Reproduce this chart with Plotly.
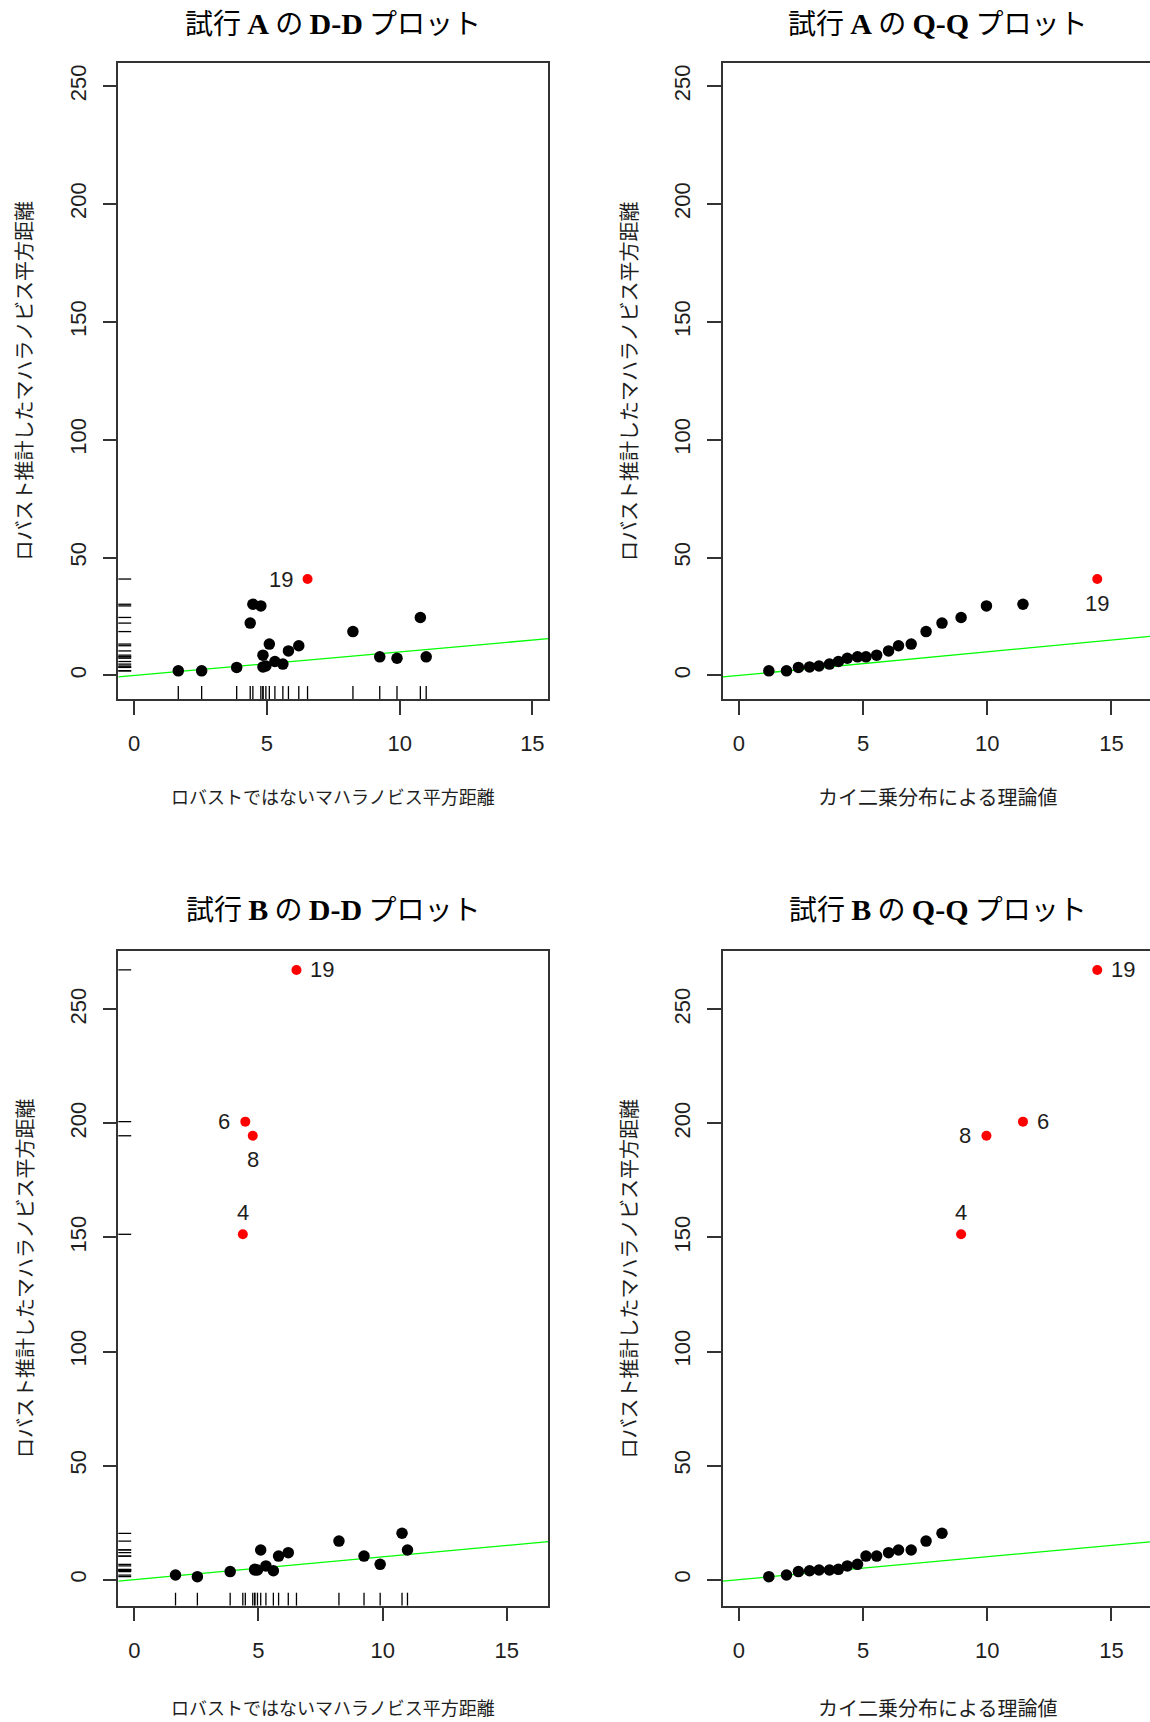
import plotly.graph_objects as go

# ---------------- data ----------------
obs_ids = list(range(1, 21))
# non-robust squared Mahalanobis distance (shared by trial A and trial B)
nonrobust_d2 = [1.66, 2.54, 3.86, 4.37, 4.85, 4.47, 4.85, 4.77, 4.96, 5.09,
                5.30, 5.60, 5.81, 6.20, 8.24, 9.25, 9.90, 10.78, 6.53, 11.00]
# robust squared Mahalanobis distance, trial A
robust_d2_A = [1.95, 1.95, 3.4, 22.2, 8.6, 30.2, 3.6, 29.5, 4.0, 13.3,
               5.9, 4.8, 10.4, 12.6, 18.6, 7.9, 7.3, 24.6, 40.9, 7.9]
# robust squared Mahalanobis distance, trial B
robust_d2_B = [2.0, 1.3, 3.5, 151.4, 4.5, 200.8, 4.2, 194.6, 4.2, 13.0,
               6.0, 3.9, 10.3, 11.8, 16.9, 10.3, 6.7, 20.3, 267.3, 13.0]
# theoretical chi-square quantiles (Q-Q x axis)
chisq_quantiles = [1.21, 1.92, 2.40, 2.85, 3.23, 3.65, 4.01, 4.37, 4.78, 5.12,
                   5.55, 6.03, 6.43, 6.94, 7.54, 8.18, 8.95, 9.97, 11.44, 14.43]
outliers_A = [19]
outliers_B = [4, 6, 8, 19]
x_tick_vals = [0, 5, 10, 15]
y_tick_vals = [0, 50, 100, 150, 200, 250]

titles = {
    "A_DD": ("試行", "A", "D-D"),
    "A_QQ": ("試行", "A", "Q-Q"),
    "B_DD": ("試行", "B", "D-D"),
    "B_QQ": ("試行", "B", "Q-Q"),
}
xlab_dd = "ロバストではないマハラノビス平方距離"
xlab_qq = "カイ二乗分布による理論値"
ylab = "ロバスト推計したマハラノビス平方距離"

# ---------------- layout (pixels) ----------------
W, H = 1150, 1722
def px(v):
    return v / W
def py(v):
    return 1 - v / H

panels = {
    "A_DD": dict(n="", bx=(118.3, 548.3), by=(62.6, 699.0), xr=[-0.6, 15.6], yr=[-10, 260], mirror_y=True),
    "A_QQ": dict(n="2", bx=(722.8, 1150.0), by=(62.6, 699.0), xr=[-0.644, 16.554], yr=[-10, 260], mirror_y=False),
    "B_DD": dict(n="3", bx=(118.3, 548.3), by=(950.8, 1605.6), xr=[-0.644, 16.67], yr=[-11.4, 275.7], mirror_y=True),
    "B_QQ": dict(n="4", bx=(722.8, 1150.0), by=(950.8, 1605.6), xr=[-0.644, 16.554], yr=[-11.4, 275.7], mirror_y=False),
}

label_pos = {
    "A_DD": {19: "left"},
    "A_QQ": {19: "below"},
    "B_DD": {19: "right", 6: "left", 8: "below", 4: "above"},
    "B_QQ": {19: "right", 6: "right", 8: "left", 4: "above"},
}
pos_style = {
    "left": ("right", "middle", -13, 0),
    "right": ("left", "middle", 12, 0),
    "above": ("center", "middle", 0, 22),
    "below": ("center", "middle", 0, -24),
}

fig = go.Figure()
annotations = []
shapes = []

AX_COL = "#333333"
TXT_COL = "#1e1e1e"
tick_font = dict(family="Liberation Sans, Arial, sans-serif", size=22, color=TXT_COL)

def panel_data(name):
    trial = name[0]
    ys = robust_d2_A if trial == "A" else robust_d2_B
    flagged = outliers_A if trial == "A" else outliers_B
    if name.endswith("DD"):
        xs = list(nonrobust_d2)
        ids = list(obs_ids)
        yv = list(ys)
    else:
        order = sorted(range(len(ys)), key=lambda i: ys[i])
        yv = [ys[i] for i in order]
        ids = [obs_ids[i] for i in order]
        xs = list(chisq_quantiles)
    return xs, yv, ids, flagged

for name, p in panels.items():
    n = p["n"]
    xa = "x" + n
    ya = "y" + n
    xs, ys, ids, flagged = panel_data(name)
    bx = [x for x, i in zip(xs, ids) if i not in flagged]
    byv = [y for y, i in zip(ys, ids) if i not in flagged]
    rx = [x for x, i in zip(xs, ids) if i in flagged]
    ry = [y for y, i in zip(ys, ids) if i in flagged]
    rid = [i for i in ids if i in flagged]

    fig.add_trace(go.Scatter(x=bx, y=byv, mode="markers", xaxis=xa, yaxis=ya,
                             marker=dict(color="black", size=11.5, line=dict(width=0)),
                             showlegend=False, hoverinfo="skip"))
    fig.add_trace(go.Scatter(x=rx, y=ry, mode="markers", xaxis=xa, yaxis=ya,
                             marker=dict(color="#ff0000", size=10, line=dict(width=0)),
                             showlegend=False, hoverinfo="skip"))

    # reference line y = x across the plot region
    x0, x1 = p["xr"]
    shapes.append(dict(type="line", xref=xa, yref=ya, x0=x0, x1=x1, y0=x0, y1=x1,
                       line=dict(color="#00ff00", width=1.3), layer="below"))

    # labels of flagged points
    for x, y, i in zip(rx, ry, rid):
        xanc, yanc, xs_, ys_ = pos_style[label_pos[name][i]]
        annotations.append(dict(x=x, y=y, xref=xa, yref=ya, text=str(i), showarrow=False,
                                xanchor=xanc, yanchor=yanc, xshift=xs_, yshift=ys_,
                                font=dict(family="Liberation Sans, Arial, sans-serif", size=22, color=TXT_COL)))

    # rugs for D-D plots
    if name.endswith("DD"):
        bw = p["bx"][1] - p["bx"][0]
        bh = p["by"][1] - p["by"][0]
        rug_len = 0.03 * min(bw, bh)
        for x in xs:
            shapes.append(dict(type="line", xref=xa, yref=ya + " domain", x0=x, x1=x,
                               y0=0, y1=rug_len / bh, line=dict(color="black", width=1.3)))
        for y in ys:
            shapes.append(dict(type="line", xref=xa + " domain", yref=ya, x0=0, x1=rug_len / bw,
                               y0=y, y1=y, line=dict(color="black", width=1.3)))

    xkey = "xaxis" + n
    ykey = "yaxis" + n
    fig.update_layout(**{
        xkey: dict(domain=[px(p["bx"][0]), px(p["bx"][1])], range=p["xr"], anchor=ya,
                   showgrid=False, zeroline=False, showline=True, linecolor=AX_COL, linewidth=1.5,
                   mirror=True, ticks="outside", ticklen=14, tickwidth=1.5, tickcolor=AX_COL,
                   tickvals=x_tick_vals, ticktext=[str(v) for v in x_tick_vals],
                   tickfont=tick_font, ticklabelstandoff=10),
        ykey: dict(domain=[py(p["by"][1]), py(p["by"][0])], range=p["yr"], anchor=xa,
                   showgrid=False, zeroline=False, showline=True, linecolor=AX_COL, linewidth=1.5,
                   mirror=p["mirror_y"], ticks="outside", ticklen=14, tickwidth=1.5, tickcolor=AX_COL,
                   tickvals=y_tick_vals, ticktext=[str(v) for v in y_tick_vals],
                   tickfont=tick_font, tickangle=-90, ticklabelstandoff=8),
    })

    # panel title
    cx = (p["bx"][0] + (p["bx"][0] + 430)) / 2
    t_ja, t_trial, t_kind = titles[name]
    title_txt = (f"{t_ja} <span style='font-family:Liberation Serif;font-size:30px'><b>{t_trial}</b></span> の "
                 f"<span style='font-family:Liberation Serif;font-size:30px'><b>{t_kind}</b></span> プロット")
    ty = 22 if name.startswith("A") else 908
    annotations.append(dict(x=px(cx), y=py(ty), xref="paper", yref="paper", text=title_txt,
                            showarrow=False, xanchor="center", yanchor="middle",
                            font=dict(family="Noto Sans CJK JP, Liberation Serif", size=28, color="black")))

    # x axis title
    xt_y = 796 if name.startswith("A") else 1707
    xl = xlab_dd if name.endswith("DD") else xlab_qq
    xs_size = 18 if name.endswith("DD") else 20
    annotations.append(dict(x=px(cx), y=py(xt_y), xref="paper", yref="paper", text=xl,
                            showarrow=False, xanchor="center", yanchor="middle",
                            font=dict(family="Noto Sans CJK JP", size=xs_size, color=TXT_COL)))
    # y axis title
    yt_x = p["bx"][0] - 94.5
    yc = (p["by"][0] + p["by"][1]) / 2
    annotations.append(dict(x=px(yt_x), y=py(yc), xref="paper", yref="paper", text=ylab,
                            showarrow=False, xanchor="center", yanchor="middle", textangle=-90,
                            font=dict(family="Noto Sans CJK JP", size=20, color=TXT_COL)))

fig.update_layout(width=W, height=H, margin=dict(l=0, r=0, t=0, b=0),
                  paper_bgcolor="white", plot_bgcolor="white", showlegend=False,
                  annotations=annotations, shapes=shapes)

fig.write_html("out.html")
